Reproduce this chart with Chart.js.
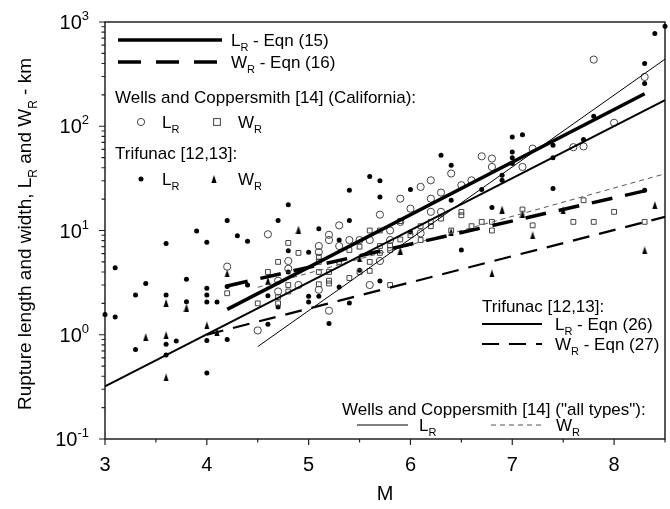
<!DOCTYPE html>
<html>
<head>
<meta charset="utf-8">
<script src="https://cdn.jsdelivr.net/npm/chart.js@4.4.1/dist/chart.umd.min.js"></script>
<style>
  html, body { margin: 0; padding: 0; background: #fff; }
</style>
</head>
<body>
<canvas id="chart" width="670" height="509"></canvas>
<script>
// Wells and Coppersmith (California) - open circles / squares
const wcLenM  = [4.2, 4.5, 4.6, 4.7, 4.7, 4.8, 4.8, 4.9, 5.1, 5.1, 5.1, 5.2, 5.2, 5.2, 5.3, 5.3, 5.4, 5.5, 5.6, 5.6, 5.7, 5.7, 5.8, 5.8, 5.9, 5.9, 6.0, 6.1, 6.1, 6.2, 6.2, 6.2, 6.3, 6.3, 6.4, 6.5, 6.6, 6.7, 6.8, 6.8, 7.1, 7.2, 7.6, 7.7, 7.8, 8.0, 8.3];
const wcLenKm = [4.5, 1.1, 9.2, 2.6, 3.3, 5.1, 4.3, 3.0, 7.1, 6.2, 2.7, 9.1, 8.1, 1.7, 11.2, 7.1, 8.1, 8.1, 8.1, 3.0, 14.2, 5.1, 10, 8.1, 20.2, 12.1, 16.2, 26.2, 9.4, 30.3, 20.2, 15.1, 23.1, 15.1, 35.2, 27.2, 30.3, 51.5, 49, 40.7, 40.7, 61, 63, 64, 436, 108, 297];
const wcWidM  = [4.2, 4.5, 4.6, 4.7, 4.7, 4.7, 4.8, 4.8, 4.8, 4.9, 5.1, 5.1, 5.1, 5.1, 5.2, 5.2, 5.2, 5.3, 5.4, 5.4, 5.5, 5.5, 5.6, 5.6, 5.6, 5.7, 5.7, 5.7, 5.8, 5.8, 5.8, 5.9, 5.9, 6.0, 6.1, 6.1, 6.2, 6.2, 6.3, 6.4, 6.5, 6.5, 6.6, 6.7, 6.8, 6.8, 7.1, 7.2, 7.6, 7.7, 7.8, 8.0, 8.3];
const wcWidKm = [2.5, 2.0, 4.0, 5.0, 2.3, 2.0, 7.6, 3.0, 2.6, 6.1, 5.6, 5.0, 4.0, 3.05, 3.3, 3.1, 4.0, 5.0, 6.5, 3.5, 7.0, 4.0, 10, 5.0, 4.1, 10, 7.1, 6.1, 7.2, 6.5, 3.0, 8.2, 12.3, 9.0, 11, 8.1, 12.1, 11, 13, 10, 15.1, 14, 11, 12.1, 12.1, 10, 15.9, 11.2, 12.1, 19.5, 12.1, 15.1, 12.1];

// Trifunac - filled dots / triangles
const trLenM  = [3.0, 3.1, 3.1, 3.3, 3.3, 3.4, 3.6, 3.6, 3.6, 3.6, 3.7, 3.8, 3.8, 3.9, 4.0, 4.0, 4.0, 4.0, 4.0, 4.0, 4.1, 4.2, 4.2, 4.2, 4.3, 4.4, 4.4, 4.6, 4.6, 4.7, 4.7, 4.8, 4.8, 4.8, 5.0, 5.0, 5.0, 5.1, 5.1, 5.2, 5.3, 5.3, 5.4, 5.4, 5.4, 5.5, 5.6, 5.7, 5.7, 5.7, 6.0, 6.0, 6.3, 6.4, 6.4, 6.5, 6.7, 6.8, 6.9, 6.9, 7.0, 7.0, 7.0, 7.0, 7.1, 7.4, 7.4, 7.4, 7.7, 7.8, 8.3, 8.3, 8.3, 8.4, 8.5];
const trLenKm = [1.56, 4.4, 1.48, 2.4, 0.72, 3.1, 7.5, 2.4, 0.81, 0.64, 0.87, 3.4, 2.07, 9.9, 7.7, 2.8, 2.4, 2.06, 0.88, 0.43, 2.06, 12.5, 2.9, 0.9, 8.9, 7.9, 3.0, 1.26, 2.36, 12.5, 1.85, 17.7, 6.4, 4.0, 6.2, 2.34, 2.06, 10.4, 2.34, 1.28, 8.1, 2.87, 24.3, 12.5, 2.02, 4.16, 33, 30, 21, 3.28, 24.7, 9.7, 52.7, 42.3, 19.5, 6.5, 24.7, 16.6, 33.9, 30.3, 79, 56.7, 50, 44, 83, 65.7, 50, 25.3, 74.5, 125, 24.3, 400, 257, 775, 910];
const trWidM  = [3.4, 3.6, 3.6, 3.6, 3.8, 4.0, 4.1, 4.2, 4.6, 4.9, 5.5, 5.9, 6.4, 6.8, 6.9, 7.1, 7.2, 7.5, 8.3, 8.4];
const trWidKm = [0.95, 2.02, 0.99, 0.39, 1.82, 1.23, 1.06, 3.87, 3.3, 10.2, 5.4, 6.4, 9.7, 3.87, 15.9, 14.5, 9.0, 15.6, 6.46, 17.5];

// regression lines (end points)
const eq15M = [4.2, 8.3],  eq15Km = [1.75, 205];
const eq16M = [4.2, 8.3],  eq16Km = [2.94, 24];
const eq26M = [3.0, 8.5],  eq26Km = [0.32, 178];
const eq27M = [4.0, 8.5],  eq27Km = [1.0, 13.5];
const wcAllLenM = [4.5, 8.5], wcAllLenKm = [0.77, 440];
const wcAllWidM = [4.5, 8.5], wcAllWidKm = [2.85, 35];

// axis tick labels
const xTickLabels = [3, 4, 5, 6, 7, 8];
const yTickExps = [-1, 0, 1, 2, 3];

const FONT = "'Liberation Sans', Arial, Helvetica, sans-serif";

function pts(xs, ys) {
  return xs.map((x, i) => ({ x: x, y: ys[i] }));
}

// narrow filled triangle used for the Trifunac W_R points
const tri = document.createElement('canvas');
tri.width = 6; tri.height = 8;
(function() {
  const c = tri.getContext('2d');
  c.fillStyle = '#000';
  c.beginPath();
  c.moveTo(3, 0); c.lineTo(5.6, 8); c.lineTo(0.4, 8);
  c.closePath(); c.fill();
})();

// text with sub (1) / superscript (2) pieces, cy is the visual middle
function rich(ctx, x, cy, parts, size, small, align) {
  let w = 0;
  parts.forEach(p => {
    ctx.font = (p[1] ? small : size) + 'px ' + FONT;
    w += ctx.measureText(p[0]).width;
  });
  let cx = align === 'right' ? x - w : (align === 'center' ? x - w / 2 : x);
  const base = cy + size * 0.36;
  ctx.textAlign = 'left';
  ctx.textBaseline = 'alphabetic';
  ctx.fillStyle = '#000';
  parts.forEach(p => {
    ctx.font = (p[1] ? small : size) + 'px ' + FONT;
    const dy = p[1] === 1 ? size * 0.3 : (p[1] === 2 ? -size * 0.45 : 0);
    ctx.fillText(p[0], cx, base + dy);
    cx += ctx.measureText(p[0]).width;
  });
}

function marker(ctx, kind, x, y) {
  ctx.save();
  ctx.lineWidth = 1;
  if (kind === 'circle') {
    ctx.strokeStyle = '#444';
    ctx.beginPath(); ctx.arc(x, y, 3.6, 0, Math.PI * 2); ctx.stroke();
  } else if (kind === 'square') {
    ctx.strokeStyle = '#444';
    ctx.strokeRect(x - 3.4, y - 3.4, 6.8, 6.8);
  } else if (kind === 'dot') {
    ctx.fillStyle = '#000';
    ctx.beginPath(); ctx.arc(x, y, 2.5, 0, Math.PI * 2); ctx.fill();
  } else {
    ctx.drawImage(tri, x - 3, y - 4);
  }
  ctx.restore();
}

function sample(ctx, x1, x2, y, width, dash, color) {
  ctx.save();
  ctx.strokeStyle = color || '#000';
  ctx.lineWidth = width;
  ctx.setLineDash(dash);
  ctx.beginPath(); ctx.moveTo(x1, y); ctx.lineTo(x2, y); ctx.stroke();
  ctx.restore();
}

const framePlugin = {
  id: 'frame',
  beforeDatasetsDraw(chart) {
    const ctx = chart.ctx, a = chart.chartArea;
    const xs = chart.scales.x, ys = chart.scales.y;
    ctx.save();
    ctx.strokeStyle = '#222';
    ctx.lineWidth = 1.5;
    ctx.strokeRect(a.left, a.top, a.right - a.left, a.bottom - a.top);
    ctx.lineWidth = 1.2;
    ctx.beginPath();
    // y ticks (log minor ticks)
    for (let d = -1; d <= 2; d++) {
      for (let k = 1; k <= 9; k++) {
        const py = ys.getPixelForValue(k * Math.pow(10, d));
        ctx.moveTo(a.left - (k === 1 ? 6 : 3.5), py); ctx.lineTo(a.left, py);
      }
    }
    const top = ys.getPixelForValue(1000);
    ctx.moveTo(a.left - 6, top); ctx.lineTo(a.left, top);
    // x ticks
    for (let v = 3; v <= 8.5; v += 0.5) {
      const px = xs.getPixelForValue(v);
      ctx.moveTo(px, a.bottom); ctx.lineTo(px, a.bottom + (v % 1 === 0 ? 6 : 3.5));
    }
    ctx.stroke();
    ctx.restore();
  },
  afterDraw(chart) {
    const ctx = chart.ctx, a = chart.chartArea;
    const xs = chart.scales.x, ys = chart.scales.y;
    ctx.save();
    // tick labels
    ctx.fillStyle = '#000';
    ctx.font = '20px ' + FONT;
    ctx.textAlign = 'center';
    ctx.textBaseline = 'alphabetic';
    xTickLabels.forEach(v => {
      ctx.fillText(String(v), xs.getPixelForValue(v), 470.5);
    });
    yTickExps.forEach(e => {
      rich(ctx, 89, ys.getPixelForValue(Math.pow(10, e)),
        [['10', 0], [e < 0 ? '-' + Math.abs(e) : String(e), 2]], 20, 13, 'right');
    });
    // axis titles
    ctx.font = '20px ' + FONT;
    ctx.textAlign = 'center';
    ctx.fillText('M', (a.left + a.right) / 2, 500);
    ctx.save();
    ctx.translate(24, 234);
    ctx.rotate(-Math.PI / 2);
    rich(ctx, 0, 0, [['Rupture length and width, L', 0], ['R', 1], [' and W', 0], ['R', 1], [' - km', 0]], 19, 12, 'center');
    ctx.restore();

    // upper left legend
    sample(ctx, 118, 222, 40, 3.5, []);
    rich(ctx, 231, 40, [['L', 0], ['R', 1], [' - Eqn (15)', 0]], 17, 11, 'left');
    sample(ctx, 118, 222, 62, 3.5, [23, 15]);
    rich(ctx, 231, 62, [['W', 0], ['R', 1], [' - Eqn (16)', 0]], 17, 11, 'left');
    rich(ctx, 115, 97, [['Wells and Coppersmith [14] (California):', 0]], 17, 11, 'left');
    marker(ctx, 'circle', 141, 122);
    rich(ctx, 162, 122, [['L', 0], ['R', 1]], 17, 11, 'left');
    marker(ctx, 'square', 217, 122);
    rich(ctx, 238, 122, [['W', 0], ['R', 1]], 17, 11, 'left');
    rich(ctx, 115, 153, [['Trifunac [12,13]:', 0]], 17, 11, 'left');
    marker(ctx, 'dot', 141, 179);
    rich(ctx, 162, 179, [['L', 0], ['R', 1]], 17, 11, 'left');
    marker(ctx, 'tri', 214, 179);
    rich(ctx, 238, 179, [['W', 0], ['R', 1]], 17, 11, 'left');

    // right legend
    rich(ctx, 482, 306, [['Trifunac [12,13]:', 0]], 17, 11, 'left');
    sample(ctx, 482, 542, 324, 1.8, []);
    rich(ctx, 555, 324, [['L', 0], ['R', 1], [' - Eqn (26)', 0]], 17, 11, 'left');
    sample(ctx, 482, 542, 344, 2.2, [17, 10]);
    rich(ctx, 555, 344, [['W', 0], ['R', 1], [' - Eqn (27)', 0]], 17, 11, 'left');

    // bottom legend
    rich(ctx, 342, 409, [['Wells and Coppersmith [14] ("all types"):', 0]], 17, 11, 'left');
    sample(ctx, 357, 408, 425, 1, []);
    rich(ctx, 419, 425, [['L', 0], ['R', 1]], 17, 11, 'left');
    sample(ctx, 491, 545, 425, 1, [5, 4], '#555');
    rich(ctx, 556, 425, [['W', 0], ['R', 1]], 17, 11, 'left');
    ctx.restore();
  }
};

function lineSet(xs, ys, width, dash, color) {
  return {
    data: pts(xs, ys),
    showLine: true,
    borderColor: color || '#000',
    borderWidth: width,
    borderDash: dash,
    pointRadius: 0,
    fill: false
  };
}

const chart = new Chart(document.getElementById('chart'), {
  type: 'scatter',
  data: {
    datasets: [
      lineSet(eq15M, eq15Km, 3.5, []),
      lineSet(eq16M, eq16Km, 3.5, [21, 13]),
      lineSet(eq26M, eq26Km, 1.8, []),
      lineSet(eq27M, eq27Km, 2.2, [17, 10]),
      lineSet(wcAllLenM, wcAllLenKm, 1, []),
      lineSet(wcAllWidM, wcAllWidKm, 1, [5, 4], '#555'),
      {
        data: pts(wcLenM, wcLenKm), pointStyle: 'circle', pointRadius: 3.6,
        borderColor: '#444', backgroundColor: 'rgba(255,255,255,0)', borderWidth: 1, clip: false
      },
      {
        data: pts(wcWidM, wcWidKm), pointStyle: 'rect', pointRadius: 3.4,
        borderColor: '#444', backgroundColor: 'rgba(255,255,255,0)', borderWidth: 1, clip: false
      },
      {
        data: pts(trLenM, trLenKm), pointStyle: 'circle', pointRadius: 2.5,
        borderColor: '#000', backgroundColor: '#000', borderWidth: 0, clip: false
      },
      {
        data: pts(trWidM, trWidKm), pointStyle: tri, pointRadius: 4, clip: false
      }
    ]
  },
  options: {
    responsive: false,
    animation: false,
    layout: { padding: { top: 22, right: 2, bottom: 0, left: 0 } },
    plugins: { legend: { display: false }, tooltip: { enabled: false } },
    scales: {
      x: {
        type: 'linear', min: 3, max: 8.5,
        grid: { display: false }, border: { display: false },
        ticks: { display: false },
        afterFit: s => { s.height = 70; }
      },
      y: {
        type: 'logarithmic', min: 0.1, max: 1000,
        grid: { display: false }, border: { display: false },
        ticks: { display: false },
        afterFit: s => { s.width = 105; }
      }
    }
  },
  plugins: [framePlugin]
});
</script>
</body>
</html>
